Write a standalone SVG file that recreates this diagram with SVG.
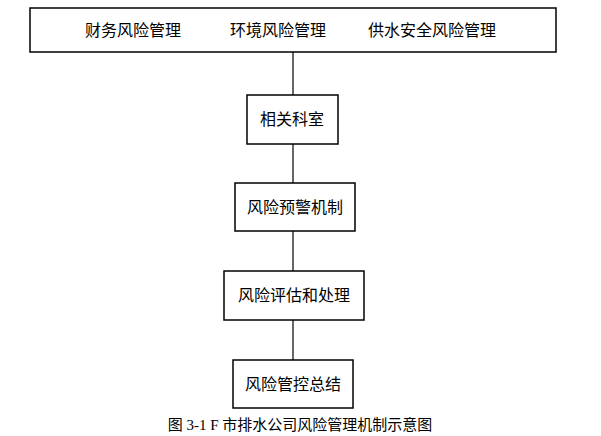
<svg xmlns="http://www.w3.org/2000/svg" width="601" height="436" viewBox="0 0 601 436">
<style>
rect{fill:#fff;stroke:#000;stroke-width:1.5}
text{font-family:"Liberation Serif","Noto Sans CJK SC",serif;font-size:16px;fill:#000;text-anchor:middle}
line{stroke:#000;stroke-width:1.2}
</style>
<rect width="601" height="436" fill="#fff" style="stroke:none"/>
<g id="connectors">
<line x1="293" y1="52" x2="293" y2="95"/>
<line x1="293" y1="144" x2="293" y2="183"/>
<line x1="293" y1="231" x2="293" y2="271"/>
<line x1="293" y1="320" x2="293" y2="360"/>
</g>
<g id="top"><rect x="30" y="8" width="526" height="44"/>
<text x="133" y="36">财务风险管理</text><text x="278" y="36">环境风险管理</text><text x="432" y="36">供水安全风险管理</text></g>
<g id="n1"><rect x="247" y="95" width="91" height="49"/><text x="292" y="125">相关科室</text></g>
<g id="n2"><rect x="235" y="183" width="120" height="48"/><text x="295" y="213">风险预警机制</text></g>
<g id="n3"><rect x="224" y="271" width="140" height="49"/><text x="294" y="301">风险评估和处理</text></g>
<g id="n4"><rect x="233" y="360" width="120" height="48"/><text x="293" y="390">风险管控总结</text></g>
<text x="300" y="430" style="font-size:15px">图 3-1 F 市排水公司风险管理机制示意图</text>
</svg>
